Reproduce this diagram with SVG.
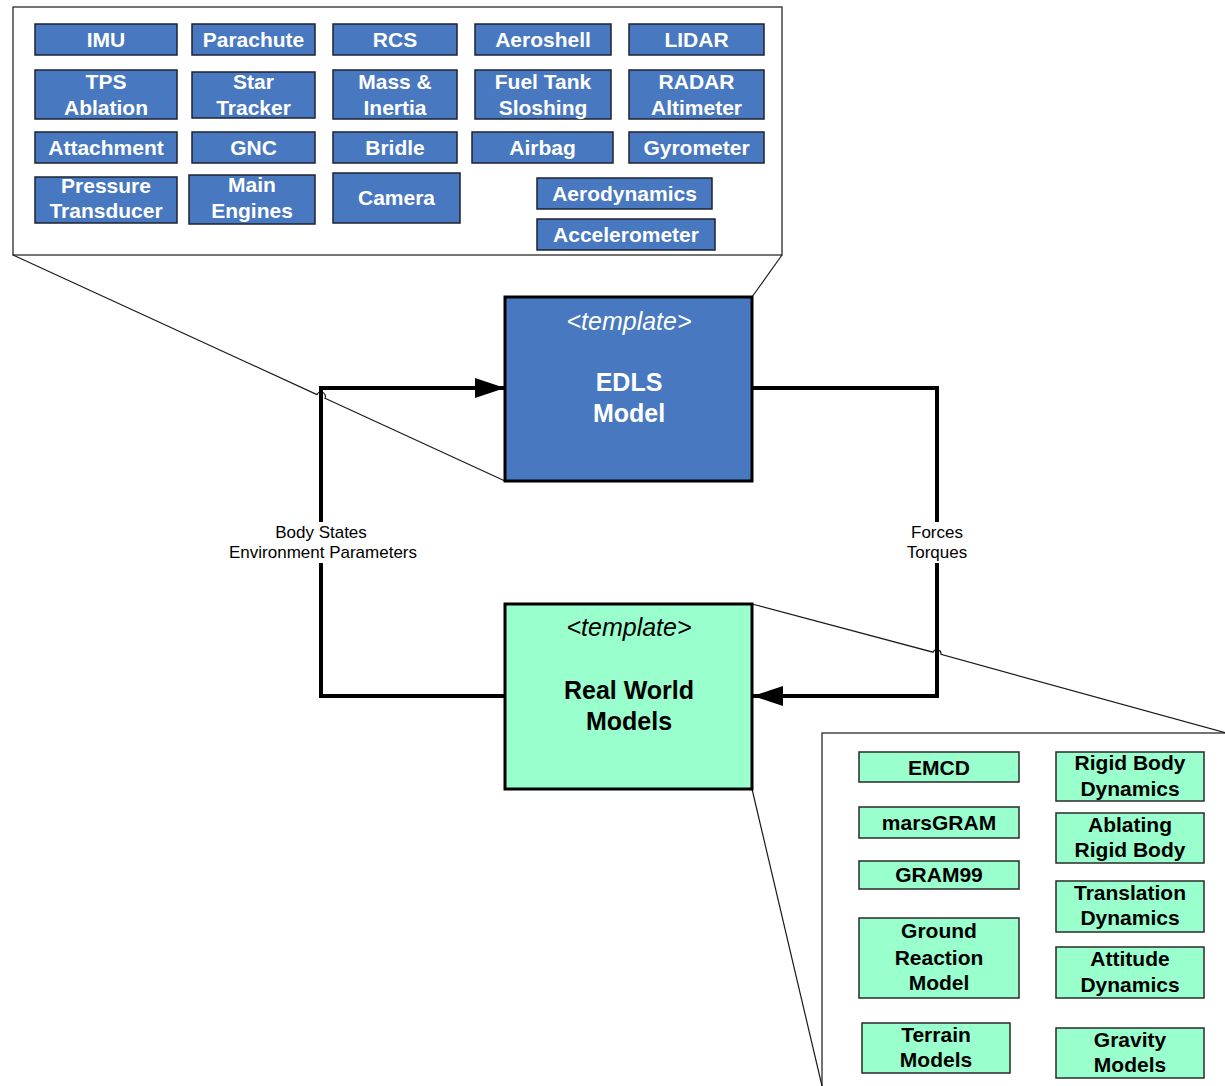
<svg xmlns="http://www.w3.org/2000/svg" width="1225" height="1086" viewBox="0 0 1225 1086">
  <defs>
    <style>
      .panel { fill: #ffffff; stroke: #2a2a2a; stroke-width: 1.3; }
      .callout { fill: none; stroke: #1a1a1a; stroke-width: 1.2; }
      .blue { fill: #4878C0; stroke: #1c2230; stroke-width: 1.5; }
      .green { fill: #99FFCC; stroke: #2a2a2a; stroke-width: 1.5; }
      .btxt { font-family: "Liberation Sans", Arial, sans-serif; font-size: 21px; font-weight: bold; fill: #ffffff; text-anchor: middle; }
      .gtxt { font-family: "Liberation Sans", Arial, sans-serif; font-size: 21px; font-weight: bold; fill: #000000; text-anchor: middle; }
      .big { stroke: #000000; stroke-width: 3; }
      .tmpl { font-family: "Liberation Sans", Arial, sans-serif; font-size: 25px; font-style: italic; text-anchor: middle; }
      .title { font-family: "Liberation Sans", Arial, sans-serif; font-size: 25px; font-weight: bold; text-anchor: middle; }
      .conn { fill: none; stroke: #000000; stroke-width: 4; }
      .lbl { font-family: "Liberation Sans", Arial, sans-serif; font-size: 17px; fill: #000000; text-anchor: middle; }
    </style>
    <marker id="arrow" markerUnits="userSpaceOnUse" markerWidth="32" markerHeight="22" refX="30" refY="10" orient="auto">
      <path d="M0,0 L30,10 L0,20 Z" fill="#000000"/>
    </marker>
  </defs>

  <!-- Callout panels -->
  <g id="top-panel">
    <rect class="panel" x="13" y="7" width="769" height="248"/>
  </g>
  <g id="bottom-panel">
    <rect class="panel" x="822" y="733" width="420" height="370"/>
  </g>

  <!-- Callout leader lines (with hops over the connectors) -->
  <g id="callouts">
    <path class="callout" d="M13,255 L317,394.6 A4.2,4.2 0 0 1 325,398.3 L505,481"/>
    <path class="callout" d="M782,255 L752,297"/>
    <path class="callout" d="M752,604 L933,652.2 A4.2,4.2 0 0 1 941,654.4 L1230,734"/>
    <path class="callout" d="M752,789 L822,1086"/>
  </g>

  <!-- Connectors -->
  <g id="connectors">
    <path class="conn" d="M752,388 L937,388 L937,696 L753,696" marker-end="url(#arrow)"/>
    <path class="conn" d="M505,696 L321,696 L321,388 L505,388" marker-end="url(#arrow)"/>
    <rect x="220" y="522" width="205" height="41" fill="#ffffff"/>
    <rect x="898" y="522" width="78" height="41" fill="#ffffff"/>
    <text class="lbl" x="321" y="538">Body States</text>
    <text class="lbl" x="323" y="558">Environment Parameters</text>
    <text class="lbl" x="937" y="538">Forces</text>
    <text class="lbl" x="937" y="558">Torques</text>
  </g>

  <!-- Main nodes -->
  <g id="edls-model">
    <rect class="blue big" x="505" y="297" width="247" height="184"/>
    <text class="tmpl" x="629" y="330" fill="#ffffff">&lt;template&gt;</text>
    <text class="title" x="629" y="391" fill="#ffffff">EDLS</text>
    <text class="title" x="629" y="422" fill="#ffffff">Model</text>
  </g>
  <g id="real-world-models">
    <rect class="green big" x="505" y="604" width="247" height="185"/>
    <text class="tmpl" x="629" y="636" fill="#000000">&lt;template&gt;</text>
    <text class="title" x="629" y="699" fill="#000000">Real World</text>
    <text class="title" x="629" y="730" fill="#000000">Models</text>
  </g>

  <!-- EDLS components -->
  <g id="imu"><rect class="blue" x="35" y="24" width="142" height="31"/><text class="btxt" x="106" y="47">IMU</text></g>
  <g id="parachute"><rect class="blue" x="192" y="24" width="123" height="31"/><text class="btxt" x="253.5" y="47">Parachute</text></g>
  <g id="rcs"><rect class="blue" x="333" y="24" width="124" height="31"/><text class="btxt" x="395" y="47">RCS</text></g>
  <g id="aeroshell"><rect class="blue" x="475" y="24" width="136" height="31"/><text class="btxt" x="543" y="47">Aeroshell</text></g>
  <g id="lidar"><rect class="blue" x="629" y="24" width="135" height="31"/><text class="btxt" x="696.5" y="47">LIDAR</text></g>

  <g id="tps-ablation"><rect class="blue" x="35" y="70" width="142" height="49"/><text class="btxt" x="106" y="89">TPS</text><text class="btxt" x="106" y="115">Ablation</text></g>
  <g id="star-tracker"><rect class="blue" x="192" y="72" width="123" height="46"/><text class="btxt" x="253.5" y="89">Star</text><text class="btxt" x="253.5" y="115">Tracker</text></g>
  <g id="mass-inertia"><rect class="blue" x="333" y="70" width="124" height="49"/><text class="btxt" x="395" y="89">Mass &amp;</text><text class="btxt" x="395" y="115">Inertia</text></g>
  <g id="fuel-tank-sloshing"><rect class="blue" x="475" y="70" width="136" height="49"/><text class="btxt" x="543" y="89">Fuel Tank</text><text class="btxt" x="543" y="115">Sloshing</text></g>
  <g id="radar-altimeter"><rect class="blue" x="629" y="70" width="135" height="49"/><text class="btxt" x="696.5" y="89">RADAR</text><text class="btxt" x="696.5" y="115">Altimeter</text></g>

  <g id="attachment"><rect class="blue" x="35" y="132" width="142" height="31"/><text class="btxt" x="106" y="155">Attachment</text></g>
  <g id="gnc"><rect class="blue" x="192" y="132" width="123" height="31"/><text class="btxt" x="253.5" y="155">GNC</text></g>
  <g id="bridle"><rect class="blue" x="333" y="132" width="124" height="31"/><text class="btxt" x="395" y="155">Bridle</text></g>
  <g id="airbag"><rect class="blue" x="472" y="132" width="141" height="31"/><text class="btxt" x="542.5" y="155">Airbag</text></g>
  <g id="gyrometer"><rect class="blue" x="629" y="132" width="135" height="31"/><text class="btxt" x="696.5" y="155">Gyrometer</text></g>

  <g id="pressure-transducer"><rect class="blue" x="35" y="177" width="142" height="46"/><text class="btxt" x="106" y="193">Pressure</text><text class="btxt" x="106" y="218">Transducer</text></g>
  <g id="main-engines"><rect class="blue" x="189" y="175" width="126" height="49"/><text class="btxt" x="252" y="192">Main</text><text class="btxt" x="252" y="218">Engines</text></g>
  <g id="camera"><rect class="blue" x="333" y="173" width="127" height="50"/><text class="btxt" x="396.5" y="205">Camera</text></g>
  <g id="aerodynamics"><rect class="blue" x="537" y="178" width="175" height="31"/><text class="btxt" x="624.5" y="201">Aerodynamics</text></g>
  <g id="accelerometer"><rect class="blue" x="537" y="219" width="178" height="31"/><text class="btxt" x="626" y="242">Accelerometer</text></g>

  <!-- Real world components -->
  <g id="emcd"><rect class="green" x="859" y="752" width="160" height="30"/><text class="gtxt" x="939" y="775">EMCD</text></g>
  <g id="marsgram"><rect class="green" x="859" y="807" width="160" height="31"/><text class="gtxt" x="939" y="830">marsGRAM</text></g>
  <g id="gram99"><rect class="green" x="859" y="861" width="160" height="28"/><text class="gtxt" x="939" y="882">GRAM99</text></g>
  <g id="ground-reaction-model"><rect class="green" x="859" y="918" width="160" height="80"/><text class="gtxt" x="939" y="938">Ground</text><text class="gtxt" x="939" y="965">Reaction</text><text class="gtxt" x="939" y="990">Model</text></g>
  <g id="terrain-models"><rect class="green" x="862" y="1023" width="148" height="50"/><text class="gtxt" x="936" y="1042">Terrain</text><text class="gtxt" x="936" y="1067">Models</text></g>

  <g id="rigid-body-dynamics"><rect class="green" x="1056" y="752" width="148" height="49"/><text class="gtxt" x="1130" y="770">Rigid Body</text><text class="gtxt" x="1130" y="796">Dynamics</text></g>
  <g id="ablating-rigid-body"><rect class="green" x="1056" y="813" width="148" height="50"/><text class="gtxt" x="1130" y="832">Ablating</text><text class="gtxt" x="1130" y="857">Rigid Body</text></g>
  <g id="translation-dynamics"><rect class="green" x="1056" y="881" width="148" height="51"/><text class="gtxt" x="1130" y="900">Translation</text><text class="gtxt" x="1130" y="925">Dynamics</text></g>
  <g id="attitude-dynamics"><rect class="green" x="1056" y="947" width="148" height="51"/><text class="gtxt" x="1130" y="966">Attitude</text><text class="gtxt" x="1130" y="992">Dynamics</text></g>
  <g id="gravity-models"><rect class="green" x="1056" y="1028" width="148" height="50"/><text class="gtxt" x="1130" y="1047">Gravity</text><text class="gtxt" x="1130" y="1072">Models</text></g>
</svg>
